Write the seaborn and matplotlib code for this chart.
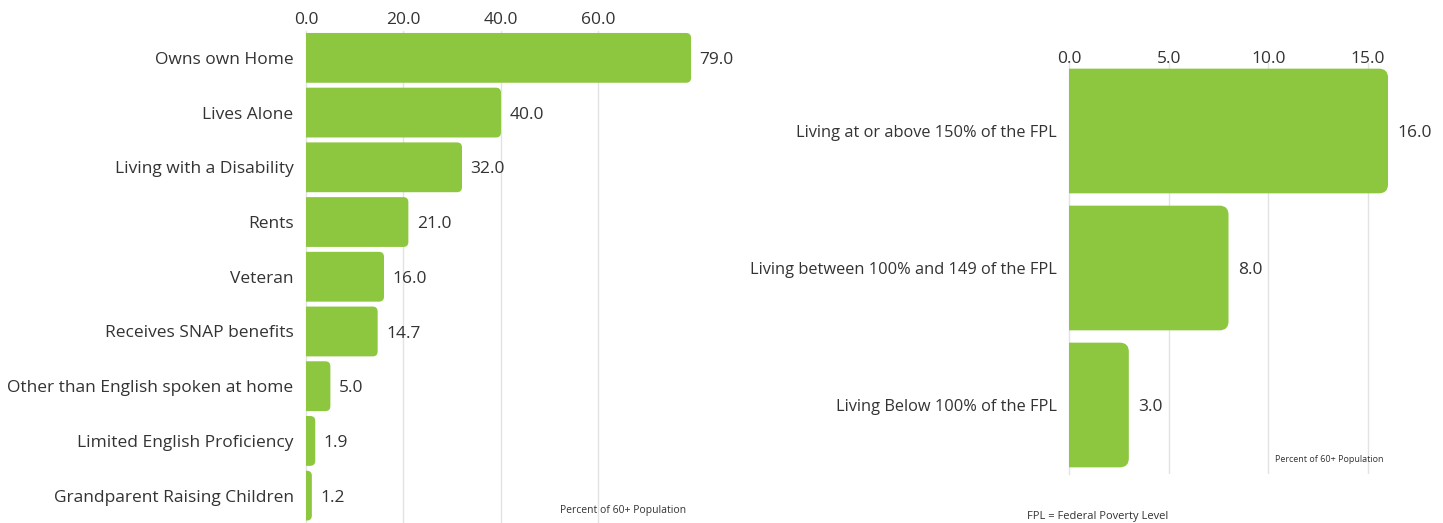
import matplotlib
matplotlib.use("Agg")
import matplotlib.pyplot as plt
import seaborn as sns
import pandas as pd
from matplotlib.patches import FancyBboxPatch

left_categories = ["Owns own Home", "Lives Alone", "Living with a Disability", "Rents", "Veteran",
                   "Receives SNAP benefits", "Other than English spoken at home",
                   "Limited English Proficiency", "Grandparent Raising Children"]
left_values = [79.0, 40.0, 32.0, 21.0, 16.0, 14.7, 5.0, 1.9, 1.2]
left_ticks = [0, 20, 40, 60]

right_categories = ["Living at or above 150% of the FPL", "Living between 100% and 149 of the FPL",
                    "Living Below 100% of the FPL"]
right_values = [16.0, 8.0, 3.0]
right_ticks = [0, 5, 10, 15]

GREEN = "#8dc63f"
TEXT = "#333333"
GRID = "#e3e3e3"

sns.set_theme(style="white")
plt.rcParams["font.family"] = ["Open Sans", "DejaVu Sans"]

fig = plt.figure(figsize=(14.43, 5.23), dpi=100)
ax1 = fig.add_axes([306 / 1443, 0.0, (694 - 306) / 1443, 1 - 30.5 / 523])
ax2 = fig.add_axes([1069 / 1443, 1 - 473.5 / 523, (1392 - 1069) / 1443, (473.5 - 62.5) / 523])


def round_bars(ax, radius_px=6):
    fig.canvas.draw()
    t = ax.transData
    x0, y0 = t.transform((0, 0))
    x1, y1 = t.transform((1, 1))
    px_x = abs(x1 - x0)
    px_y = abs(y1 - y0)
    r = radius_px / px_x
    aspect = px_x / px_y
    for p in list(ax.patches):
        x, y, w, h = p.get_x(), p.get_y(), p.get_width(), p.get_height()
        fb = FancyBboxPatch((x - 2 * r, y), w + 2 * r, h,
                            boxstyle=f"round,pad=0,rounding_size={r}",
                            mutation_aspect=aspect, facecolor=GREEN, edgecolor="none",
                            zorder=p.get_zorder())
        ax.add_patch(fb)
        p.remove()


def style(ax, cats, vals, ticks, xmax, lab_size, ytick_pad, xtick_pad, val_off):
    df = pd.DataFrame({"cat": cats, "val": vals})
    sns.barplot(data=df, y="cat", x="val", ax=ax, color=GREEN, saturation=1, width=0.91,
                orient="h", zorder=3)
    ax.set_xlim(0, xmax)
    ax.set_ylim(len(cats) - 0.5, -0.5)
    ax.xaxis.tick_top()
    ax.set_xticks(ticks)
    ax.set_xticklabels([f"{t:.1f}" for t in ticks])
    ax.tick_params(axis="x", length=0, pad=xtick_pad, labelsize=12.5, labelcolor=TEXT)
    ax.tick_params(axis="y", length=0, pad=ytick_pad, labelsize=lab_size, labelcolor=TEXT)
    ax.set_xlabel("")
    ax.set_ylabel("")
    for s in ["top", "right", "bottom"]:
        ax.spines[s].set_visible(False)
    ax.spines["left"].set_color(GRID)
    ax.spines["left"].set_linewidth(1)
    for t in ticks[1:]:
        ax.axvline(t, color=GRID, lw=1, zorder=1)
    for i, v in enumerate(vals):
        ax.annotate(f"{v:.1f}", xy=(v, i), xytext=(val_off, -1.5), textcoords="offset points",
                    va="center", ha="left", fontsize=12.5, color=TEXT)


style(ax1, left_categories, left_values, left_ticks, 79.6, 12.5, 9, 2, 6)
style(ax2, right_categories, right_values, right_ticks, 16.2, 11.8, 9, -3, 7)
round_bars(ax1, 5)
round_bars(ax2, 9)

fig.text(623 / 1443, 1 - 511 / 523, "Percent of 60+ Population", ha="center", va="center",
         fontsize=7.5, color=TEXT)
fig.text(1329.5 / 1443, 1 - 460 / 523, "Percent of 60+ Population", ha="center", va="center",
         fontsize=6.5, color=TEXT)
fig.text(1027 / 1443, 1 - 516 / 523, "FPL = Federal Poverty Level", ha="left", va="center",
         fontsize=8, color=TEXT)

fig.savefig("out.png", dpi=100, facecolor="white")
